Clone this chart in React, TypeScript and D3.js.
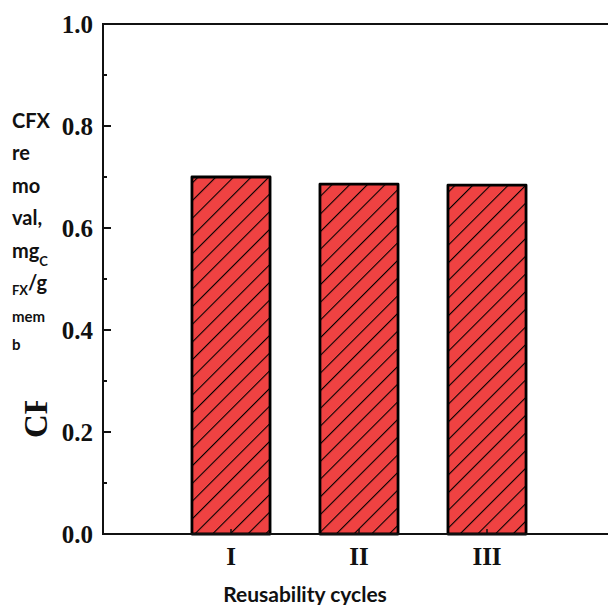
import { useEffect, useRef } from 'react';
import * as d3 from 'd3';

const cycles = ['I', 'II', 'III'];
const removal = [0.70, 0.686, 0.684];
const yTicks = [0, 0.2, 0.4, 0.6, 0.8, 1.0];
const yMinor = [0.1, 0.3, 0.5, 0.7, 0.9];

// wrapped y label, as it appears in the figure
const labelLines = [
  { text: 'CFX', sub: '', size: 20 },
  { text: 're', sub: '', size: 20 },
  { text: 'mo', sub: '', size: 20 },
  { text: 'val,', sub: '', size: 20 },
  { text: 'mg', sub: 'C', size: 20 },
  { text: '/g', sub: 'FX', size: 20 },
  { text: 'mem', sub: '', size: 15 },
  { text: 'b', sub: '', size: 15 },
];
const labelBaselines = [128, 160, 193, 225, 258, 290, 322, 350];

export default function App() {
  const svgRef = useRef<SVGSVGElement>(null);

  useEffect(() => {
    const svg = d3.select(svgRef.current);
    svg.selectAll('*').remove();

    const margin = { top: 24, left: 103 };
    const w = 512;
    const h = 510;

    const x = d3.scaleBand().domain(cycles).range([0, w]).paddingInner(0.39).paddingOuter(0.695);
    const y = d3.scaleLinear().domain([0, 1]).range([h, 0]);

    const defs = svg.append('defs');
    const pat = defs.append('pattern').attr('id', 'hatch')
      .attr('patternUnits', 'userSpaceOnUse').attr('width', 12.5).attr('height', 12.5)
      .attr('patternTransform', 'rotate(45)');
    pat.append('rect').attr('width', 12.5).attr('height', 12.5).attr('fill', '#ef4242');
    pat.append('line').attr('x1', 0).attr('x2', 0).attr('y1', 0).attr('y2', 12.5)
      .attr('stroke', '#000').attr('stroke-width', 2.2);

    const g = svg.append('g').attr('transform', `translate(${margin.left},${margin.top})`);

    // bars
    g.selectAll('rect.bar').data(removal).enter().append('rect')
      .attr('x', (_, i) => x(cycles[i])!)
      .attr('y', d => y(d))
      .attr('width', x.bandwidth())
      .attr('height', d => h - y(d))
      .attr('fill', 'url(#hatch)')
      .attr('stroke', '#000').attr('stroke-width', 2.8).attr('stroke-linejoin', 'round');

    // frame lines
    g.append('line').attr('x1', 0).attr('x2', w).attr('y1', 0).attr('y2', 0)
      .attr('stroke', '#111').attr('stroke-width', 2);
    g.append('line').attr('x1', 0).attr('x2', w).attr('y1', h).attr('y2', h)
      .attr('stroke', '#111').attr('stroke-width', 2);
    g.append('line').attr('x1', 0).attr('x2', 0).attr('y1', -1).attr('y2', h + 1)
      .attr('stroke', '#111').attr('stroke-width', 2);

    // y ticks
    g.selectAll('line.ymaj').data(yTicks).enter().append('line')
      .attr('x1', 0).attr('x2', 8).attr('y1', d => y(d)).attr('y2', d => y(d))
      .attr('stroke', '#111').attr('stroke-width', 2);
    g.selectAll('line.ymin').data(yMinor).enter().append('line')
      .attr('x1', 0).attr('x2', 4).attr('y1', d => y(d)).attr('y2', d => y(d))
      .attr('stroke', '#111').attr('stroke-width', 2);
    g.selectAll('text.ytick').data(yTicks).enter().append('text')
      .attr('x', -10).attr('y', d => y(d) + 9)
      .attr('text-anchor', 'end')
      .attr('font-family', '"Liberation Serif", serif').attr('font-weight', 'bold')
      .attr('font-size', 25).attr('fill', '#111')
      .text(d => d.toFixed(1));

    // x ticks
    g.selectAll('line.xtick').data(cycles).enter().append('line')
      .attr('x1', d => x(d)! + x.bandwidth() / 2).attr('x2', d => x(d)! + x.bandwidth() / 2)
      .attr('y1', h).attr('y2', h - 5)
      .attr('stroke', '#111').attr('stroke-width', 1.5);
    g.selectAll('text.xtick').data(cycles).enter().append('text')
      .attr('x', d => x(d)! + x.bandwidth() / 2).attr('y', h + 31)
      .attr('text-anchor', 'middle')
      .attr('font-family', '"Liberation Serif", serif').attr('font-weight', 'bold')
      .attr('font-size', 25).attr('fill', '#111')
      .text(d => d);

    // x title
    svg.append('text').attr('x', 305).attr('y', 602)
      .attr('text-anchor', 'middle')
      .attr('font-family', 'Lato, sans-serif').attr('font-weight', 'bold')
      .attr('font-size', 21).attr('fill', '#111')
      .text('Reusability cycles');

    // wrapped y label
    labelLines.forEach((ln, i) => {
      const t = svg.append('text').attr('x', 12).attr('y', labelBaselines[i])
        .attr('font-family', 'Lato, sans-serif').attr('font-weight', 'bold')
        .attr('fill', '#111');
      if (ln.text === 'mg') {
        t.append('tspan').attr('font-size', ln.size).text(ln.text);
        t.append('tspan').attr('font-size', 13).attr('dy', 8).text(ln.sub);
      } else if (ln.sub) {
        t.append('tspan').attr('font-size', 13).attr('dy', 5).text(ln.sub);
        t.append('tspan').attr('font-size', ln.size).attr('dy', -5).text(ln.text);
      } else {
        t.append('tspan').attr('font-size', ln.size).text(ln.text);
      }
    });

    // rotated serif remnant of the original label, top cut off
    svg.append('text')
      .attr('transform', 'translate(47,438) rotate(-90)')
      .attr('font-family', '"Liberation Serif", serif').attr('font-weight', 'bold')
      .attr('font-size', 33).attr('fill', '#111')
      .text('CF');
    svg.append('rect').attr('x', 15).attr('y', 370).attr('width', 40).attr('height', 31).attr('fill', '#fff');
  }, []);

  return (
    <svg ref={svgRef} width={608} height={605}
      style={{ position: 'absolute', left: 0, top: 0, background: '#fff' }} />
  );
}
